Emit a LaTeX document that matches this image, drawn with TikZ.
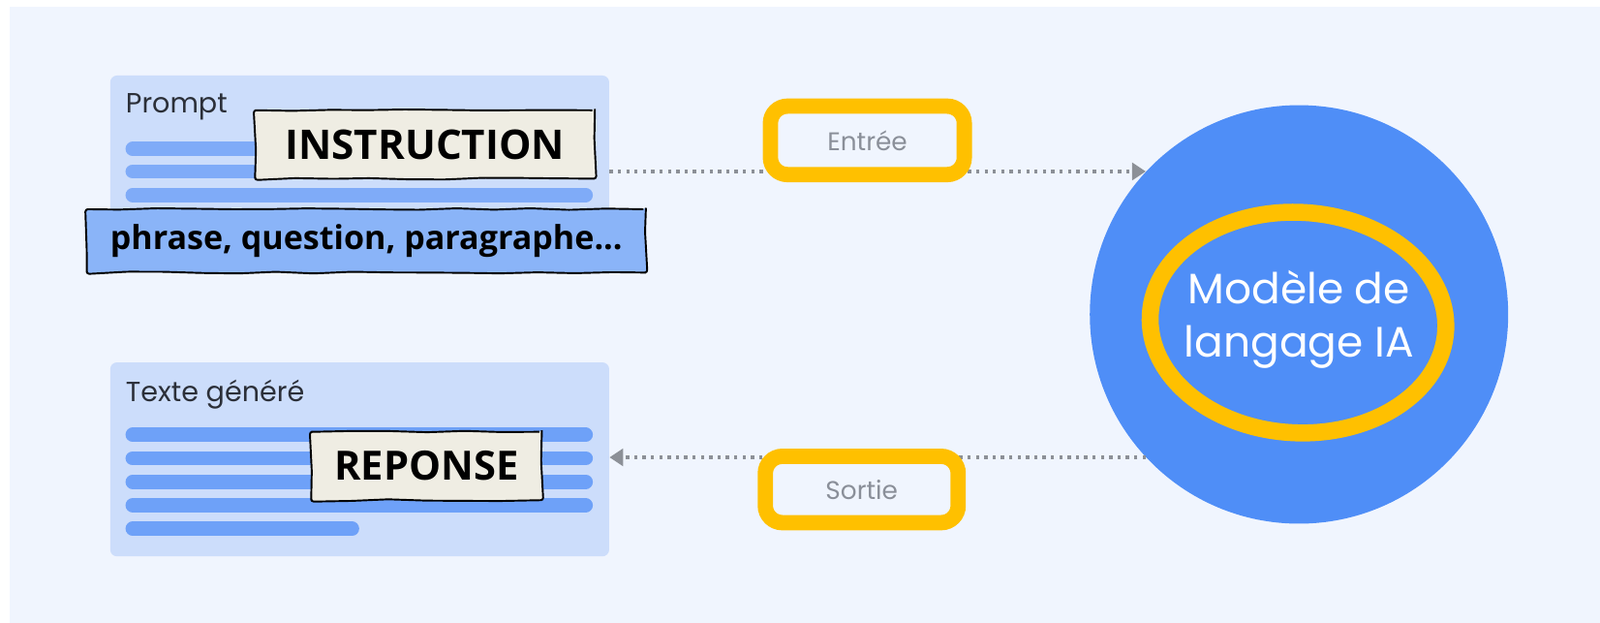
\documentclass[tikz,border=0pt]{standalone}
\usepackage{fontspec}
\setmainfont{Poppins}
\newfontfamily\hand{Open Sans}
\usetikzlibrary{arrows.meta,decorations.pathmorphing,fit,shapes.geometric}
\definecolor{bgblue}{HTML}{F0F5FE}
\definecolor{panelblue}{HTML}{CCDDFB}
\definecolor{barblue}{HTML}{7FABF8}
\definecolor{barblue2}{HTML}{6EA1F8}
\definecolor{bannerblue}{HTML}{8AB4F8}
\definecolor{beige}{HTML}{EFEDE3}
\definecolor{circleblue}{HTML}{4F8EF7}
\definecolor{hlyellow}{HTML}{FFC000}
\definecolor{txtgray}{HTML}{8A8F99}
\definecolor{dotgray}{HTML}{8C9097}
\definecolor{darktxt}{HTML}{2B2F38}
\tikzset{
  panel/.style={fill=panelblue, rounded corners=4pt, inner sep=0pt, draw=none},
  bar/.style={line width=8.4pt, line cap=round},
  wobbly/.style={draw=black, line width=1.1pt, decorate,
    decoration={random steps, segment length=22pt, amplitude=0.6pt}, rounded corners=1.5pt,
    inner sep=0pt, font=\hand\bfseries},
  hl/.style={draw=hlyellow, line width=9pt, rounded corners=10pt, inner sep=0pt,
    font=\fontsize{15}{17}\selectfont, text=txtgray},
  dotline/.style={draw=dotgray, line width=1.9pt, dash pattern=on 1.9pt off 3pt},
  lbl/.style={anchor=west, inner sep=0pt, text=darktxt, font=\fontsize{16.3}{18}\selectfont},
}
\begin{document}
\begin{tikzpicture}[x=0.6pt,y=-0.6pt]
\useasboundingbox (0,0) rectangle (1568,610);
\fill[white] (0,0) rectangle (1568,610);
\fill[bgblue] (9.5,6.5) rectangle (1568,610);
% panels
\coordinate (p1) at (108,74); \coordinate (p2) at (597,230);
\node[panel, fit=(p1)(p2)] (prompt) {};
\coordinate (r1) at (108,355); \coordinate (r2) at (597,545);
\node[panel, fit=(r1)(r2)] (resp) {};
\node[lbl] (promptlbl) at (123,105) {Prompt};
\node[lbl] (resplbl) at (123,386) {Texte généré};
% bars
\foreach \y in {146,168,191} \draw[bar, barblue] (130,\y) -- (574,\y);
\foreach \y in {426,449,472,495} \draw[bar, barblue2] (130,\y) -- (574,\y);
\draw[bar, barblue2] (130,518) -- (345,518);
% circle
\node[circle, fill=circleblue, minimum size=246pt, inner sep=0pt] (llm) at (1273,308) {};
% arrows
\draw[dotline, -{Triangle[length=8pt,width=10pt]}, dotgray] (prompt.east |- llm.137.7) -- (llm.137.7);
\draw[dotline, -{Triangle[length=8pt,width=10pt]}, dotgray] (llm.223.9) -- (resp.east |- llm.223.9);
% highlights
\node[hl, minimum width=114pt, minimum height=40.2pt] (entree) at (850,137.5) {Entrée};
\node[hl, minimum width=113.4pt, minimum height=39pt] (sortie) at (844.5,479.5) {Sortie};
\node[ellipse, draw=hlyellow, line width=10pt, minimum width=174pt, minimum height=129.6pt, rotate=-3] (ring) at (1272,316) {};
\node[text=white, align=center, font=\fontsize{25}{31}\selectfont] (llmtxt) at (1273,313) {Modèle de\\langage IA};
% hand boxes
\node[wobbly, fill=beige, minimum width=199.8pt, minimum height=40.2pt, font=\hand\bfseries\fontsize{24}{27}\selectfont] (instr) at (416.5,141.5) {INSTRUCTION};
\node[wobbly, fill=bannerblue, minimum width=328.8pt, minimum height=37.2pt, font=\hand\bfseries\fontsize{19.4}{22}\selectfont] (banner) at (359,236) {phrase, question, paragraphe...};
\node[wobbly, fill=beige, minimum width=135.6pt, minimum height=40.2pt, font=\hand\bfseries\fontsize{23.7}{26}\selectfont] (repo) at (418,456.5) {REPONSE};
\end{tikzpicture}
\end{document}
